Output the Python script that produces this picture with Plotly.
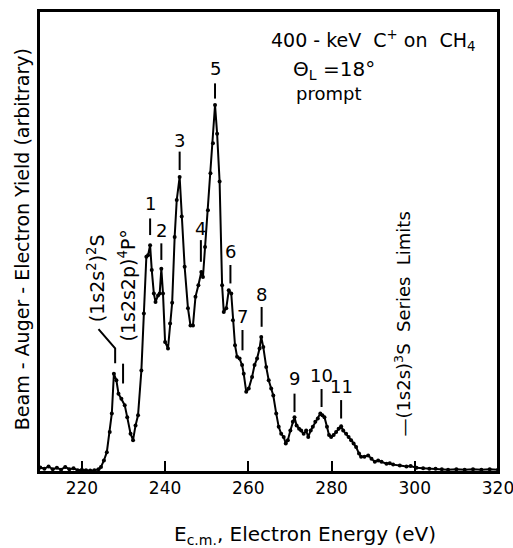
import plotly.graph_objects as go

# Electron energy (eV) and yield (arbitrary units, 0-100 frame scale)
energy = [210, 211, 212, 213, 214, 215, 216, 217, 218, 219, 220, 221, 222, 223, 224,
          224.6, 225.3, 226.0, 226.7, 227.2, 227.7, 228.3, 228.8, 229.5, 230.3, 230.9,
          231.7, 232.3, 232.9, 233.5, 234.3, 234.9, 235.5, 235.9, 236.4, 236.8, 237.3,
          237.7, 238.3, 238.7, 239.1, 239.5, 240.0, 240.7, 241.2, 241.7, 242.3, 242.8,
          243.5, 244.0, 244.7, 245.5, 246.1, 246.7, 247.3, 248.0, 248.7, 249.1, 249.6,
          250.3, 250.9, 251.5, 252.0, 252.5, 253.1, 253.7, 254.1, 254.7, 255.3, 255.9,
          256.3, 256.8, 257.3, 257.9, 258.5, 258.9, 259.5, 260.1, 260.9, 261.5, 262.1,
          262.7, 263.1, 263.6, 264.3, 264.9, 265.5, 266.0, 266.7, 267.3, 267.9, 268.5,
          269.0, 269.5, 270.1, 270.7, 271.1, 271.6, 272.2, 272.7, 273.3, 273.9, 274.4,
          275.0, 275.5, 276.1, 276.7, 277.3, 277.8, 278.3, 278.9, 279.4, 279.9, 280.5,
          281.1, 281.7, 282.3, 282.8, 283.5, 284.1, 284.7, 285.3, 285.9, 286.6, 287.1,
          287.9, 288.8, 289.6, 290.4, 291.2, 292.0, 293.2, 294.0, 294.8, 296.4, 298.0,
          299.0, 300.4, 302.0, 303.5, 305.0, 306.5, 308.0, 310.0, 312.0, 314.0, 316.0,
          318.0, 320.0]
yield_ = [1.0, 0.7, 1.2, 0.6, 0.9, 0.5, 1.1, 0.6, 0.8, 0.4, 0.5, 0.4, 0.3, 0.4, 0.6,
          1.1, 2.5, 4.3, 8.7, 12.7, 21.3, 19.9, 17.0, 15.9, 14.5, 11.9,
          8.3, 6.9, 10.1, 12.3, 22.0, 34.4, 46.7, 47.0, 49.2, 43.8, 38.7,
          36.9, 38.3, 38.7, 44.1, 38.7, 28.2, 26.8, 32.2, 36.7, 51.0, 59.0,
          64.0, 55.4, 44.5, 35.5, 31.8, 31.8, 38.0, 40.5, 43.4, 42.3, 48.8,
          56.8, 64.8, 71.3, 79.6, 73.4, 63.0, 40.5, 34.7, 35.5, 39.4, 38.7,
          32.9, 27.5, 25.0, 24.6, 23.2, 21.3, 17.4, 18.1, 20.6, 23.2, 24.6,
          26.8, 29.3, 27.1, 22.8, 19.9, 18.1, 16.6, 12.7, 9.8, 8.3, 7.6,
          6.2, 6.9, 9.0, 10.9, 11.9, 10.1, 9.4, 9.0, 8.3, 9.0, 7.6,
          9.0, 9.8, 10.9, 11.6, 12.7, 12.3, 11.9, 9.8, 8.0, 7.6, 8.0,
          8.7, 9.4, 9.9, 9.0, 8.3, 7.6, 6.9, 6.2, 5.4, 4.0, 3.3,
          3.3, 3.6, 2.9, 2.2, 2.5, 2.2, 1.8, 1.9, 1.6, 1.4, 1.2,
          1.3, 0.9, 0.8, 0.7, 0.7, 0.6, 0.5, 0.6, 0.5, 0.6, 0.5,
          0.6, 0.5]

# Peak labels: text, energy, label height, bar bottom, bar top
peak_text = ["1", "2", "3", "4", "5", "6", "7", "8", "9", "10", "11"]
peak_x = [236.4, 239.1, 243.5, 248.6, 252.0, 255.7, 258.6, 263.2, 271.1, 277.6, 282.3]
peak_label_y = [58.3, 52.4, 72.0, 52.9, 87.6, 47.8, 33.7, 38.4, 20.3, 21.0, 18.5]
bar_lo = [51.4, 46.0, 65.5, 45.6, 81.0, 40.9, 26.4, 31.5, 13.0, 14.1, 11.6]
bar_hi = [55.0, 49.6, 69.5, 50.3, 84.3, 44.9, 30.8, 35.8, 17.0, 18.0, 15.6]

x_ticks = [220, 240, 260, 280, 300, 320]

FONT = "DejaVu Sans"

fig = go.Figure()
fig.add_trace(go.Scatter(
    x=energy, y=yield_, mode="lines+markers",
    line=dict(color="black", width=2),
    marker=dict(color="black", size=4),
    showlegend=False, hoverinfo="skip"))

annotations = []
shapes = []
for t, x, ly, b0, b1 in zip(peak_text, peak_x, peak_label_y, bar_lo, bar_hi):
    annotations.append(dict(x=x, y=ly, text=t, showarrow=False,
                            font=dict(size=18, color="black", family=FONT)))
    shapes.append(dict(type="line", x0=x, x1=x, y0=b0, y1=b1,
                       line=dict(color="black", width=2)))

# (1s2s^2)2S label with leader line
annotations.append(dict(x=223.6, y=42.0, text="(1s2s<sup>2</sup>)<sup>2</sup>S", textangle=-90,
                        showarrow=False, font=dict(size=19, color="black", family=FONT)))
shapes.append(dict(type="path", path="M 224.0 31.0 L 228.0 26.8 L 228.0 23.6",
                   line=dict(color="black", width=2)))
# (1s2s2p)4P° label with bar
annotations.append(dict(x=230.9, y=40.5, text="(1s2s2p)<sup>4</sup>P°", textangle=-90,
                        showarrow=False, font=dict(size=19, color="black", family=FONT)))
shapes.append(dict(type="line", x0=229.9, x1=229.9, y0=19.2, y1=23.5,
                   line=dict(color="black", width=2)))
# Series limits
annotations.append(dict(x=297.2, y=32.0, text="—(1s2s)<sup>3</sup>S  Series  Limits", textangle=-90,
                        showarrow=False, font=dict(size=18, color="black", family=FONT)))

# Top-right info
annotations.append(dict(x=0.728, y=0.937, xref="paper", yref="paper",
                        xanchor="center", yanchor="middle",
                        text="400 - keV  C<sup>+</sup> on  CH<sub>4</sub>", showarrow=False,
                        font=dict(size=19, color="black", family=FONT)))
annotations.append(dict(x=0.643, y=0.872, xref="paper", yref="paper",
                        xanchor="center", yanchor="middle",
                        text="Θ<sub>L</sub> =18°", showarrow=False,
                        font=dict(size=20, color="black", family=FONT)))
annotations.append(dict(x=0.63, y=0.822, xref="paper", yref="paper",
                        xanchor="center", yanchor="middle",
                        text="prompt", showarrow=False,
                        font=dict(size=18, color="black", family=FONT)))

# X-axis title (offset right as in the reference)
annotations.append(dict(x=0.58, y=0, xref="paper", yref="paper",
                        xanchor="center", yanchor="middle", yshift=-63,
                        text="E<sub>c.m.</sub>, Electron Energy (eV)", showarrow=False,
                        font=dict(size=20, color="black", family=FONT)))

# Y-axis title
annotations.append(dict(x=0, y=0.505, xref="paper", yref="paper",
                        xanchor="center", yanchor="middle", xshift=-17, textangle=-90,
                        text="Beam - Auger - Electron Yield (arbitrary)", showarrow=False,
                        font=dict(size=19, color="black", family=FONT)))

# Frame
shapes.append(dict(type="rect", xref="paper", yref="paper", x0=0, x1=1, y0=0, y1=1,
                   line=dict(color="black", width=2), layer="above"))

fig.update_layout(
    width=513, height=548,
    margin=dict(l=39, r=15, t=11, b=76, autoexpand=False),
    plot_bgcolor="white", paper_bgcolor="white",
    font=dict(family=FONT, color="black", size=18),
    annotations=annotations, shapes=shapes,
    xaxis=dict(range=[209.7, 320], tickvals=x_ticks, ticks="inside", ticklen=11,
               tickwidth=2, tickcolor="black", showgrid=False, zeroline=False,
               showline=True, linecolor="black", linewidth=2, mirror=True,
               ticklabeloverflow="allow", automargin=False,
               tickfont=dict(size=17, family=FONT)),
    yaxis=dict(range=[0, 100], showticklabels=False, ticks="", showgrid=False,
               zeroline=False, showline=True, linecolor="black", linewidth=2, mirror=True,
               automargin=False),
)

fig.write_html("out.html", config={"displayModeBar": False},
               post_script="document.body.style.margin='0';")
